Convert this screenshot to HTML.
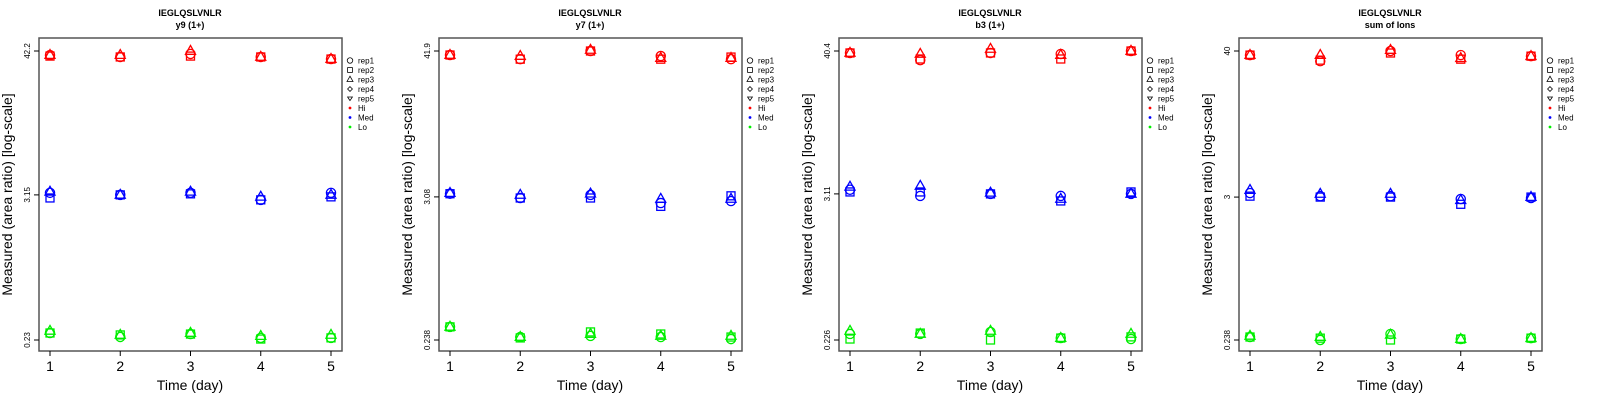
<!DOCTYPE html>
<html><head><meta charset="utf-8"><style>
html,body{margin:0;padding:0;background:#fff}
svg{display:block;font-family:"Liberation Sans",sans-serif}
</style></head><body>
<svg id="chart" width="1600" height="400" viewBox="0 0 1600 400" xmlns="http://www.w3.org/2000/svg"></svg>
<script>
const days = [1,2,3,4,5];
const titles = ["y9 (1+)","y7 (1+)","b3 (1+)","sum of Ions"];
const tickLabels = [["42.2","3.15","0.23"],["41.9","3.08","0.238"],["40.4","3.11","0.226"],["40","3","0.238"]];
const tickValues = [[42.2,3.15,0.23],[41.9,3.08,0.238],[40.4,3.11,0.226],[40,3,0.238]];
// values per panel, per level: [day][rep1, rep2, rep3]
const hiP1 = [[39.2,38.5,39.2],[37.9,37.9,39.2],[40.0,38.5,42.2],[37.9,37.9,37.9],[36.5,36.5,36.5]];
const medP1 = [[3.27,2.98,3.33],[3.15,3.15,3.15],[3.27,3.21,3.33],[2.88,2.88,3.04],[3.27,3.04,3.15]];
const loP1 = [[0.261,0.261,0.271],[0.243,0.252,0.252],[0.256,0.256,0.261],[0.239,0.234,0.247],[0.239,0.239,0.252]];
const hiP2 = [[39,39,39],[36.2,36.2,38.3],[41.9,41.9,42.7],[38.3,36.2,36.9],[36.2,37.6,36.9]];
const medP2 = [[3.26,3.26,3.30],[3.02,3.02,3.19],[3.19,3.02,3.26],[2.76,2.6,2.97],[2.86,3.14,2.97]];
const loP2 = [[0.301,0.301,0.301],[0.251,0.247,0.251],[0.256,0.275,0.265],[0.251,0.265,0.256],[0.242,0.251,0.256]];
const hiP3 = [[39,39,39],[34.3,35,38.3],[39,39,41.9],[38.3,35,37.6],[40.4,40.4,40.4]];
const medP3 = [[3.35,3.22,3.53],[3.0,3.22,3.59],[3.11,3.11,3.17],[3.0,2.74,2.84],[3.11,3.22,3.11]];
const loP3 = [[0.252,0.23,0.266],[0.252,0.256,0.252],[0.261,0.226,0.266],[0.234,0.234,0.234],[0.23,0.239,0.252]];
const hiP4 = [[37.2,37.2,37.2],[33.4,34,37.2],[40,38.6,40.7],[37.2,34.6,35.2],[36.5,36.5,36.5]];
const medP4 = [[3.22,3.05,3.4],[3.05,3.0,3.17],[3.05,3.0,3.17],[2.9,2.64,2.84],[2.95,3.0,3.0]];
const loP4 = [[0.251,0.251,0.256],[0.238,0.246,0.251],[0.265,0.238,0.261],[0.242,0.242,0.242],[0.246,0.246,0.246]];
const panels = [[hiP1,medP1,loP1],[hiP2,medP2,loP2],[hiP3,medP3,loP3],[hiP4,medP4,loP4]];
const levelColors = ["#ff0000","#0000ff","#00ee00"];
const legendLabels = ["rep1","rep2","rep3","rep4","rep5","Hi","Med","Lo"];
const levelNames = ["hi","med","lo"];

const NS="http://www.w3.org/2000/svg";
const svg=document.getElementById('chart');
function mk(tag,attrs,parent){const e=document.createElementNS(NS,tag);for(const k in attrs)e.setAttribute(k,attrs[k]);(parent||svg).appendChild(e);return e;}
function marker(g,shape,cx,cy,col){
  const st={fill:"none",stroke:col,"stroke-width":1.3};
  let e;
  if(shape===0){e=mk('circle',Object.assign({cx:cx,cy:cy,r:4.6},st),g);}
  else if(shape===1){e=mk('rect',Object.assign({x:cx-4,y:cy-4,width:8,height:8},st),g);}
  else if(shape===2){e=mk('polygon',Object.assign({points:`${cx},${cy-5.5} ${cx-5},${cy+3.3} ${cx+5},${cy+3.3}`},st),g);}
  else if(shape===3){e=mk('polygon',Object.assign({points:`${cx},${cy-4} ${cx+4},${cy} ${cx},${cy+4} ${cx-4},${cy}`},st),g);}
  else {e=mk('polygon',Object.assign({points:`${cx},${cy+3.5} ${cx-4},${cy-2.5} ${cx+4},${cy-2.5}`},st),g);}
  return e;
}
for(let p=0;p<4;p++){
  const ox=p*400;
  const g=mk('g',{});
  
  
  const L=ox+39,R=ox+342,T=38,B=351;
  const xs=d=>ox+50+(d-1)*70.25;
  const lt=Math.log10(tickValues[p][0]),lb=Math.log10(tickValues[p][2]);
  const ys=v=>51+(lt-Math.log10(v))/(lt-lb)*289;
  const t1=mk('text',{x:ox+190,y:16,"text-anchor":"middle","font-size":9,"font-weight":"bold"},g);t1.textContent="IEGLQSLVNLR";
  
  const t2=mk('text',{x:ox+190,y:28,"text-anchor":"middle","font-size":9,"font-weight":"bold"},g);t2.textContent=titles[p];
  
  const bx=mk('rect',{x:L,y:T,width:R-L,height:B-T,fill:"none",stroke:"#555","stroke-width":1.5},g);
  
  for(let i=0;i<3;i++){
    const y=ys(tickValues[p][i]);
    mk('line',{x1:L,x2:L-5,y1:y,y2:y,stroke:"#000","stroke-width":1},g);
    const tl=mk('text',{x:0,y:0,transform:`translate(${ox+30},${y}) rotate(-90)`,"text-anchor":"middle","font-size":8},g);
    tl.textContent=tickLabels[p][i];
    
  }
  days.forEach(d=>{
    const x=xs(d);
    mk('line',{x1:x,x2:x,y1:B,y2:B+5,stroke:"#000","stroke-width":1},g);
    const tl=mk('text',{x:x,y:371,"text-anchor":"middle","font-size":14},g);tl.textContent=d;
    
  });
  const xl=mk('text',{x:ox+190,y:390,"text-anchor":"middle","font-size":14},g);xl.textContent="Time (day)";
  
  const yl=mk('text',{x:0,y:0,transform:`translate(${ox+12},${(T+B)/2}) rotate(-90)`,"text-anchor":"middle","font-size":14},g);
  yl.textContent="Measured (area ratio) [log-scale]";
  
  panels[p].forEach((lvl,li)=>{
    lvl.forEach((reps,di)=>{
      reps.forEach((v,ri)=>{
        const m=marker(g,ri,xs(days[di]),ys(v),levelColors[li]);
        
        
      });
    });
  });
  const lg=mk('g',{},g);
  
  
  legendLabels.forEach((lab,i)=>{
    const y=60.5+i*9.5;
    if(i<5){marker(lg,i,ox+350,y,"#000").setAttribute('transform',`translate(${ox+350},${y}) scale(0.6) translate(${-(ox+350)},${-y})`);}
    else mk('circle',{cx:ox+350,cy:y,r:1.4,fill:levelColors[i-5]},lg);
    const t=mk('text',{x:ox+358,y:y+3,"font-size":8},lg);t.textContent=lab;
    
    
  });
}
</script>
</body></html>
